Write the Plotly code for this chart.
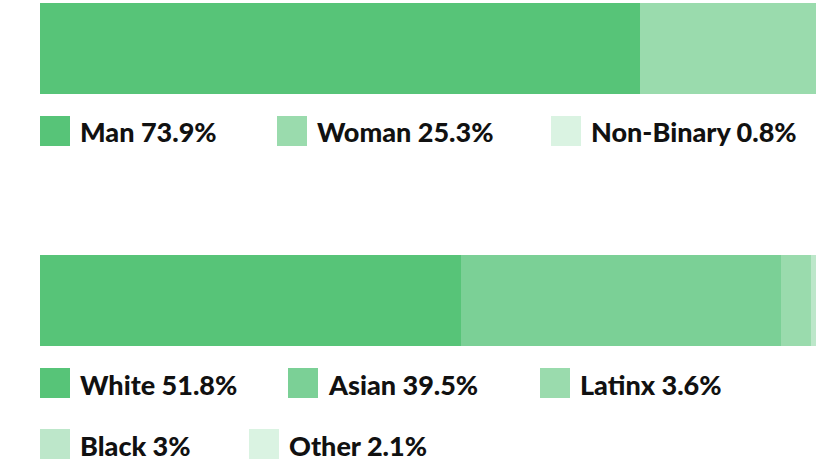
import plotly.graph_objects as go

W, H = 816, 470

gender_labels = ["Man", "Woman", "Non-Binary"]
gender_values = [73.9, 25.3, 0.8]
gender_colors = ["#57C478", "#9ADBAD", "#DAF3E2"]

eth_labels = ["White", "Asian", "Latinx", "Black", "Other"]
eth_values = [51.8, 39.5, 3.6, 3.0, 2.1]
eth_colors = ["#57C478", "#7BD096", "#9ADBAD", "#BDE7CA", "#DAF3E2"]

# pixel scale: ~8.12 px per percent, plot area from x=40 to right edge (clipped)
x_max = (W - 40) / 8.12

fig = go.Figure()
for lab, val, col in zip(gender_labels, gender_values, gender_colors):
    fig.add_trace(go.Bar(x=[val], y=["g"], orientation="h", marker=dict(color=col, line=dict(width=0)),
                         name=lab, showlegend=False, xaxis="x", yaxis="y"))
for lab, val, col in zip(eth_labels, eth_values, eth_colors):
    fig.add_trace(go.Bar(x=[val], y=["e"], orientation="h", marker=dict(color=col, line=dict(width=0)),
                         name=lab, showlegend=False, xaxis="x2", yaxis="y2"))

def py(p):
    return 1 - p / H

def px(p):
    return p / W

# legend layout (pixel positions of squares and text)
legend_rows = [
    (gender_labels, gender_values, gender_colors, [40, 277, 551], 131),
    (eth_labels[:3], eth_values[:3], eth_colors[:3], [40, 288, 540], 383),
    (eth_labels[3:], eth_values[3:], eth_colors[3:], [40, 249], 444),
]
shapes = []
annotations = []
for labels, values, colors, xs, yc in legend_rows:
    for lab, val, col, x0 in zip(labels, values, colors, xs):
        shapes.append(dict(type="rect", xref="paper", yref="paper",
                           x0=px(x0), x1=px(x0 + 30), y0=py(yc - 15), y1=py(yc + 15),
                           fillcolor=col, line=dict(width=0)))
        annotations.append(dict(xref="paper", yref="paper", x=px(x0 + 38), y=py(yc + 1),
                                xanchor="left", yanchor="middle", showarrow=False,
                                text=f"{lab} {val:g}%",
                                font=dict(family="Lato", size=27, weight=900, color="#111111")))

fig.update_layout(
    width=W, height=H,
    margin=dict(l=0, r=0, t=0, b=0),
    paper_bgcolor="white", plot_bgcolor="white",
    barmode="stack", bargap=0,
    xaxis=dict(domain=[px(40), 1], range=[0, x_max], visible=False, fixedrange=True, anchor="y"),
    yaxis=dict(domain=[py(94), py(3)], visible=False, fixedrange=True, anchor="x"),
    xaxis2=dict(domain=[px(40), 1], range=[0, x_max], visible=False, fixedrange=True, anchor="y2"),
    yaxis2=dict(domain=[py(346), py(255)], visible=False, fixedrange=True, anchor="x2"),
    shapes=shapes, annotations=annotations,
)

fig.write_html("out.html", config=dict(displayModeBar=False),
               post_script="document.body.style.margin='0';document.body.style.overflow='hidden';")
